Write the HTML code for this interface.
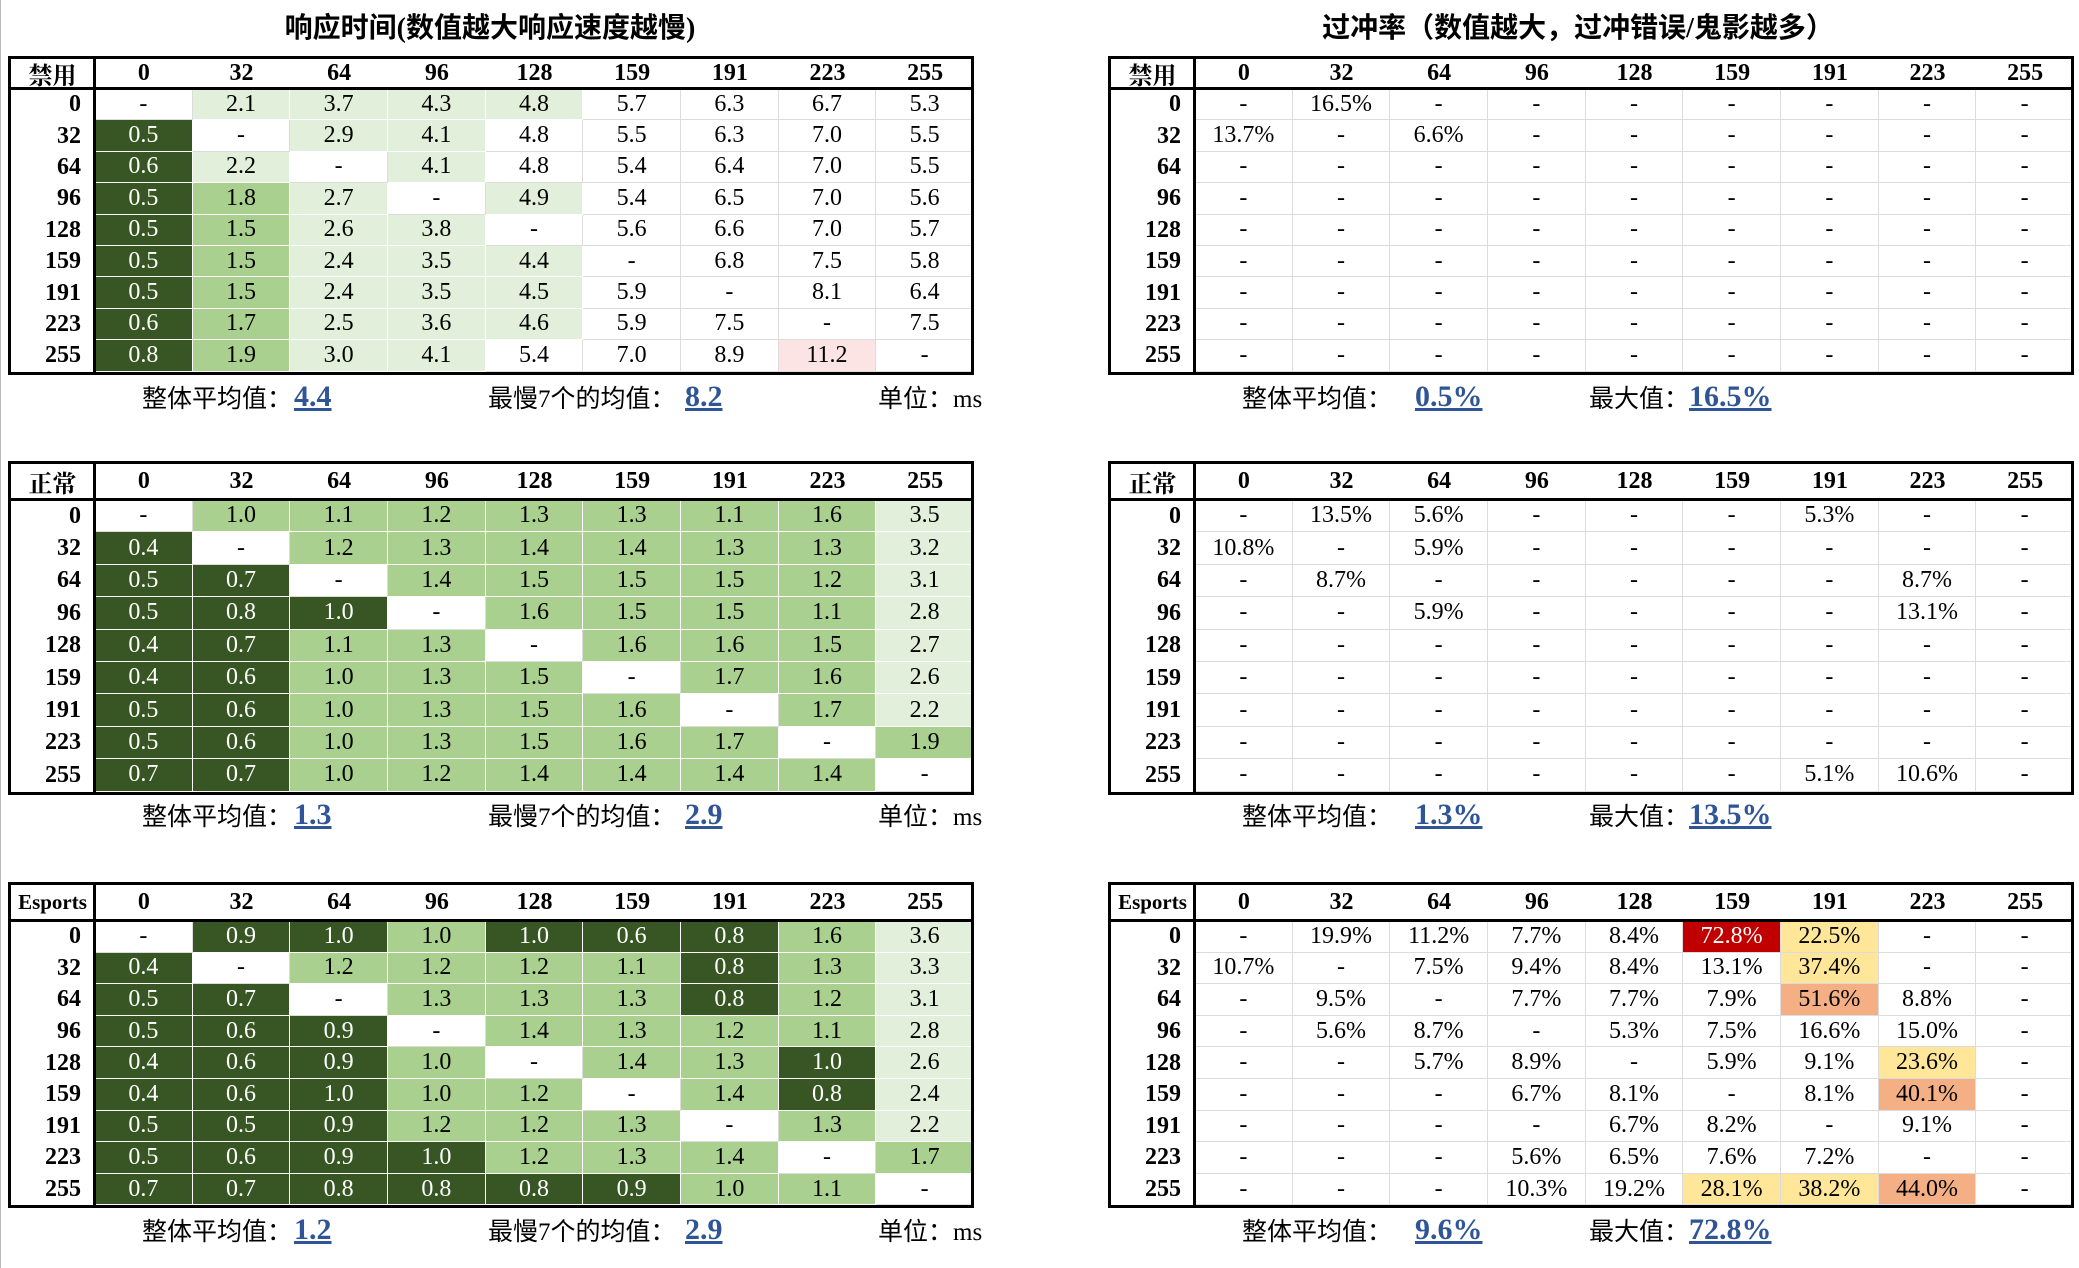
<!DOCTYPE html>
<html><head><meta charset="utf-8">
<style>
html,body{margin:0;padding:0;background:#fff;}
body{width:2079px;height:1268px;position:relative;overflow:hidden;font-family:"Liberation Serif","Noto Serif CJK SC",serif;}
.t{position:absolute;}
.cell{position:absolute;box-sizing:border-box;display:flex;align-items:center;justify-content:center;font-size:24px;color:#000;border-right:1px solid #dcdcdc;border-bottom:1px solid #dcdcdc;}
.hd{font-weight:bold;font-size:24px;border:none;}
.rl{font-weight:bold;font-size:24px;border:none;justify-content:flex-end;padding-right:14px;}
.frame{position:absolute;box-sizing:border-box;border:3px solid #000;pointer-events:none;}
.hl{position:absolute;background:#000;}
.title{position:absolute;font-weight:bold;font-size:28px;transform:translateX(-50%);white-space:nowrap;font-family:"Liberation Serif","Noto Sans CJK SC",sans-serif;}
.ft{position:absolute;font-size:25px;white-space:nowrap;transform:translateY(-50%);font-family:"Liberation Serif","Noto Sans CJK SC",serif;}
.fv{position:absolute;font-size:30px;font-weight:bold;color:#2f5597;text-decoration:underline;text-decoration-thickness:3px;white-space:nowrap;transform:translateY(-50%);}
</style></head>
<body>
<div style="position:absolute;left:0;top:0;width:1px;height:1268px;background:#bbb"></div>
<div class="title" style="left:490px;top:6px">响应时间(数值越大响应速度越慢)</div>
<div class="title" style="left:1578px;top:6px">过冲率（数值越大，过冲错误/鬼影越多）</div>
<div id="root"></div>
<script>
const levels = ["0","32","64","96","128","159","191","223","255"];

const rtOffValues = [
["-","2.1","3.7","4.3","4.8","5.7","6.3","6.7","5.3"],
["0.5","-","2.9","4.1","4.8","5.5","6.3","7.0","5.5"],
["0.6","2.2","-","4.1","4.8","5.4","6.4","7.0","5.5"],
["0.5","1.8","2.7","-","4.9","5.4","6.5","7.0","5.6"],
["0.5","1.5","2.6","3.8","-","5.6","6.6","7.0","5.7"],
["0.5","1.5","2.4","3.5","4.4","-","6.8","7.5","5.8"],
["0.5","1.5","2.4","3.5","4.5","5.9","-","8.1","6.4"],
["0.6","1.7","2.5","3.6","4.6","5.9","7.5","-","7.5"],
["0.8","1.9","3.0","4.1","5.4","7.0","8.9","11.2","-"]];
const rtOffShade = ["wllllwwww","dwllwwwww","dlwlwwwww","dmlwlwwww","dmllwwwww","dmlllwwww","dmlllwwww","dmlllwwww","dmllwwwpw"];

const rtNormValues = [
["-","1.0","1.1","1.2","1.3","1.3","1.1","1.6","3.5"],
["0.4","-","1.2","1.3","1.4","1.4","1.3","1.3","3.2"],
["0.5","0.7","-","1.4","1.5","1.5","1.5","1.2","3.1"],
["0.5","0.8","1.0","-","1.6","1.5","1.5","1.1","2.8"],
["0.4","0.7","1.1","1.3","-","1.6","1.6","1.5","2.7"],
["0.4","0.6","1.0","1.3","1.5","-","1.7","1.6","2.6"],
["0.5","0.6","1.0","1.3","1.5","1.6","-","1.7","2.2"],
["0.5","0.6","1.0","1.3","1.5","1.6","1.7","-","1.9"],
["0.7","0.7","1.0","1.2","1.4","1.4","1.4","1.4","-"]];
const rtNormShade = ["wmmmmmmml","dwmmmmmml","ddwmmmmml","dddwmmmml","ddmmwmmml","ddmmmwmml","ddmmmmwml","ddmmmmmwm","ddmmmmmmw"];

const rtEspValues = [
["-","0.9","1.0","1.0","1.0","0.6","0.8","1.6","3.6"],
["0.4","-","1.2","1.2","1.2","1.1","0.8","1.3","3.3"],
["0.5","0.7","-","1.3","1.3","1.3","0.8","1.2","3.1"],
["0.5","0.6","0.9","-","1.4","1.3","1.2","1.1","2.8"],
["0.4","0.6","0.9","1.0","-","1.4","1.3","1.0","2.6"],
["0.4","0.6","1.0","1.0","1.2","-","1.4","0.8","2.4"],
["0.5","0.5","0.9","1.2","1.2","1.3","-","1.3","2.2"],
["0.5","0.6","0.9","1.0","1.2","1.3","1.4","-","1.7"],
["0.7","0.7","0.8","0.8","0.8","0.9","1.0","1.1","-"]];
const rtEspShade = ["wddmdddml","dwmmmmdml","ddwmmmdml","dddwmmmml","dddmwmmdl","dddmmwmdl","dddmmmwml","ddddmmmwm","ddddddmmw"];

const osOffValues = [
["-","16.5%","-","-","-","-","-","-","-"],
["13.7%","-","6.6%","-","-","-","-","-","-"],
["-","-","-","-","-","-","-","-","-"],
["-","-","-","-","-","-","-","-","-"],
["-","-","-","-","-","-","-","-","-"],
["-","-","-","-","-","-","-","-","-"],
["-","-","-","-","-","-","-","-","-"],
["-","-","-","-","-","-","-","-","-"],
["-","-","-","-","-","-","-","-","-"]];
const osNormValues = [
["-","13.5%","5.6%","-","-","-","5.3%","-","-"],
["10.8%","-","5.9%","-","-","-","-","-","-"],
["-","8.7%","-","-","-","-","-","8.7%","-"],
["-","-","5.9%","-","-","-","-","13.1%","-"],
["-","-","-","-","-","-","-","-","-"],
["-","-","-","-","-","-","-","-","-"],
["-","-","-","-","-","-","-","-","-"],
["-","-","-","-","-","-","-","-","-"],
["-","-","-","-","-","-","5.1%","10.6%","-"]];
const osEspValues = [
["-","19.9%","11.2%","7.7%","8.4%","72.8%","22.5%","-","-"],
["10.7%","-","7.5%","9.4%","8.4%","13.1%","37.4%","-","-"],
["-","9.5%","-","7.7%","7.7%","7.9%","51.6%","8.8%","-"],
["-","5.6%","8.7%","-","5.3%","7.5%","16.6%","15.0%","-"],
["-","-","5.7%","8.9%","-","5.9%","9.1%","23.6%","-"],
["-","-","-","6.7%","8.1%","-","8.1%","40.1%","-"],
["-","-","-","-","6.7%","8.2%","-","9.1%","-"],
["-","-","-","5.6%","6.5%","7.6%","7.2%","-","-"],
["-","-","-","10.3%","19.2%","28.1%","38.2%","44.0%","-"]];

const rtFooters = [["4.4","8.2"],["1.3","2.9"],["1.2","2.9"]];
const osFooters = [["0.5%","16.5%"],["1.3%","13.5%"],["9.6%","72.8%"]];
const modes = ["禁用","正常","Esports"];

const shadeColor = {d:"#375623",m:"#a9d08e",l:"#e2efda",w:"#ffffff",p:"#fce4e4",r:"#c00000",y:"#ffe699",o:"#f4b084"};
function osShade(v){ if(v==="-") return "w"; const n=parseFloat(v); if(n>=60) return "r"; if(n>=40) return "o"; if(n>=20) return "y"; return "w"; }

const root=document.getElementById('root');
const tops=[[56,89,31.4],[461,500,32.4],[882,921,31.6]];
const footY=[397,815,1230];

function mk(cls,x,y,w,h){const d=document.createElement('div');d.className=cls;d.style.left=x+'px';d.style.top=y+'px';d.style.width=w+'px';d.style.height=h+'px';root.appendChild(d);return d;}

function drawTable(x0,x1,ti,mode,values,shadeFn,name){
  const [top,hb,rh]=tops[ti];
  const lw=87, cw=(x1-x0-lw)/9;
  const c=mk('cell hd',x0+3,top+2,lw-4,hb-top-3);c.textContent=mode;
  
  
  if(mode==="Esports"){c.style.fontSize='21px';}
  levels.forEach((lv,j)=>{
    const h=mk('cell hd',x0+lw+j*cw,top+2,cw,hb-top-3);h.textContent=lv;
    
    
  });
  levels.forEach((lv,i)=>{
    const y=hb+i*rh;
    const r=mk('cell rl',x0,y,lw,rh);r.textContent=lv;
    
    
    values[i].forEach((v,j)=>{
      const s=shadeFn(i,j,v);
      const e=mk('cell',x0+lw+j*cw,y,cw,rh);
      e.textContent=v;
      e.style.background=shadeColor[s];
      if(s==='d'||s==='r'){e.style.color='#fff';}
      if(s==='d'||s==='m'||s==='l'){e.style.borderColor='#fff';}
      
      
    });
  });
  const f=mk('frame',x0,top,x1-x0,hb+9*rh-top+3);
  
  
  const l1=mk('hl',x0,hb-2,x1-x0,3);
  
  
  const l2=mk('hl',x0+lw-2,top,3,hb+9*rh-top+2);
  
  
}

function txt(cls,x,y,t,name){const d=document.createElement('div');d.className=cls;d.style.left=x+'px';d.style.top=y+'px';d.textContent=t;
  
  
  root.appendChild(d);}

const rtShades=[rtOffShade,rtNormShade,rtEspShade];
const rtVals=[rtOffValues,rtNormValues,rtEspValues];
const osVals=[osOffValues,osNormValues,osEspValues];
for(let t=0;t<3;t++){
  drawTable(8,974,t,modes[t],rtVals[t],(i,j)=>rtShades[t][i][j],'rt-table-'+t);
  drawTable(1108,2074,t,modes[t],osVals[t],(i,j,v)=>osShade(v),'os-table-'+t);
  const y=footY[t];
  txt('ft',142,y,'整体平均值：','rt-avg-label');
  txt('fv',294,y,rtFooters[t][0],'rt-avg-value');
  txt('ft',488,y,'最慢7个的均值：','rt-slow7-label');
  txt('fv',685,y,rtFooters[t][1],'rt-slow7-value');
  txt('ft',878,y,'单位：ms','rt-unit-label');
  txt('ft',1242,y,'整体平均值：','os-avg-label');
  txt('fv',1415,y,osFooters[t][0],'os-avg-value');
  txt('ft',1589,y,'最大值：','os-max-label');
  txt('fv',1689,y,osFooters[t][1],'os-max-value');
}
</script>
</body></html>
